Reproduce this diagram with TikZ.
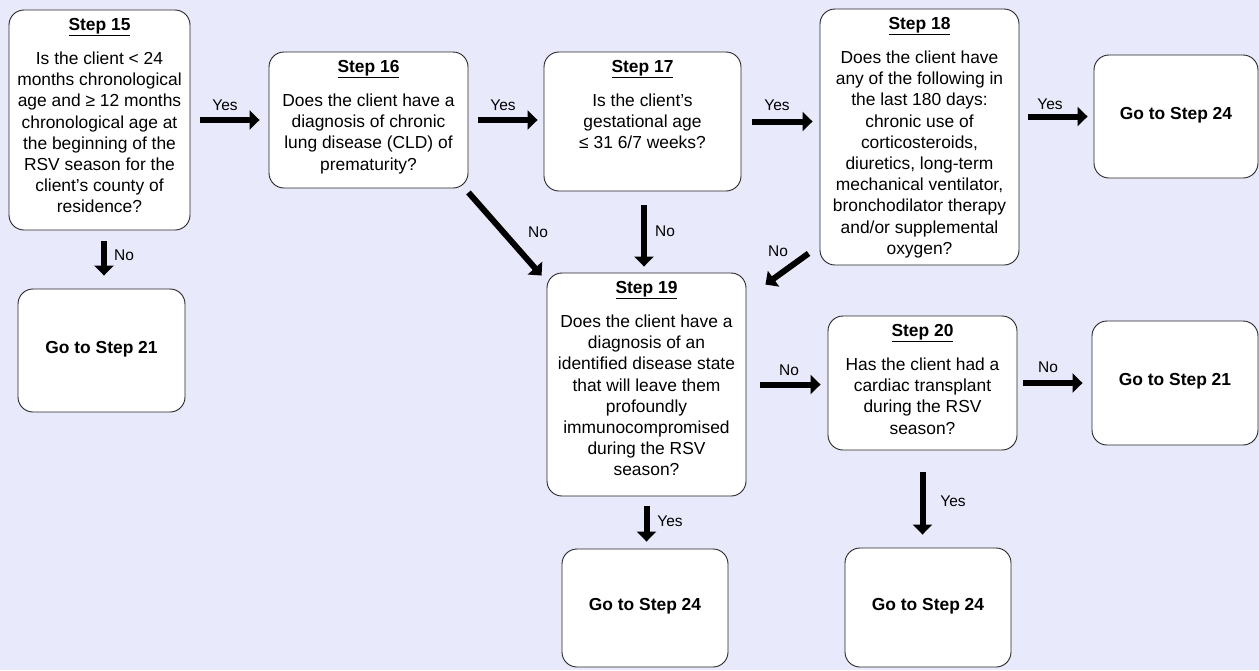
\documentclass[tikz,border=0pt]{standalone}
\usepackage{fontspec}
\setmainfont{Liberation Sans}
\usetikzlibrary{arrows.meta}
\definecolor{bg}{RGB}{233,233,252}
\newcommand\stephead[1]{\underline{\textbf{#1}}}
\begin{document}
\begin{tikzpicture}[x=1pt,y=-1pt,
  box/.style={draw=black!85, line width=0.9pt, rounded corners=15pt, fill=white, inner sep=0pt},
  stxt/.style={anchor=north, align=center, inner sep=0pt, font=\fontsize{17.4}{21.2}\selectfont},
  gotxt/.style={font=\fontsize{17.4}{21}\selectfont\bfseries, text height=12.5pt, text depth=7pt},
  lbl/.style={font=\fontsize{15.5}{18}\selectfont, inner sep=0pt},
  barrow/.style={line width=6pt, -{Triangle[width=19pt,length=10pt]}}]
\fill[bg] (0,0) rectangle (1259,670);
\useasboundingbox (0,0) rectangle (1259,670);

% boxes
\node[box, minimum width=181pt, minimum height=220pt] (s15) at (99.5,120) {};
\node[box, minimum width=199pt, minimum height=136pt] (s16) at (368.5,120) {};
\node[box, minimum width=197pt, minimum height=139pt] (s17) at (642.5,121.5) {};
\node[box, minimum width=199pt, minimum height=256pt] (s18) at (919.5,137) {};
\node[box, gotxt, minimum width=164pt, minimum height=123pt] (g24a) at (1176,116.5) {Go to Step 24};
\node[box, gotxt, minimum width=167pt, minimum height=123pt] (g21a) at (101.5,350.5) {Go to Step 21};
\node[box, minimum width=199pt, minimum height=223pt] (s19) at (646.5,384.5) {};
\node[box, minimum width=189pt, minimum height=134pt] (s20) at (922.5,383) {};
\node[box, gotxt, minimum width=166pt, minimum height=124pt] (g21b) at (1175,383) {Go to Step 21};
\node[box, gotxt, minimum width=166pt, minimum height=118pt] (g24b) at (645,608) {Go to Step 24};
\node[box, gotxt, minimum width=166pt, minimum height=119pt] (g24c) at (928,607.5) {Go to Step 24};

% texts
\node[stxt] (s15t) at ([yshift=-6.5pt]s15.north) {\rule{0pt}{14pt}\stephead{Step 15}\\[13pt]
  Is the client < 24\\ months chronological\\ age and ≥ 12 months\\ chronological age at\\
  the beginning of the\\ RSV season for the\\ client’s county of\\ residence?};
\node[stxt] (s16t) at ([yshift=-6.5pt]s16.north) {\rule{0pt}{14pt}\stephead{Step 16}\\[13pt]
  Does the client have a\\ diagnosis of chronic\\ lung disease (CLD) of\\ prematurity?};
\node[stxt] (s17t) at ([yshift=-6.5pt]s17.north) {\rule{0pt}{14pt}\stephead{Step 17}\\[13pt]
  Is the client’s\\ gestational age\\ ≤ 31 6/7 weeks?};
\node[stxt] (s18t) at ([yshift=-6.5pt]s18.north) {\rule{0pt}{14pt}\stephead{Step 18}\\[13pt]
  Does the client have\\ any of the following in\\ the last 180 days:\\ chronic use of\\
  corticosteroids,\\ diuretics, long-term\\ mechanical ventilator,\\ bronchodilator therapy\\
  and/or supplemental\\ oxygen?};
\node[stxt] (s19t) at ([yshift=-6.5pt]s19.north) {\rule{0pt}{14pt}\stephead{Step 19}\\[13pt]
  Does the client have a\\ diagnosis of an\\ identified disease state\\ that will leave them\\
  profoundly\\ immunocompromised\\ during the RSV\\ season?};
\node[stxt] (s20t) at ([yshift=-6.5pt]s20.north) {\rule{0pt}{14pt}\stephead{Step 20}\\[13pt]
  Has the client had a\\ cardiac transplant\\ during the RSV\\ season?};

% arrows
\draw[barrow, shorten <=10pt, shorten >=9pt] (s15) -- (s16);
\draw[barrow, shorten <=10pt, shorten >=6pt] (s16.east) -- (s17.west |- s16.east);
\draw[barrow, shorten <=11pt, shorten >=7pt] (s17.east) -- (s18.west |- s17.east);
\draw[barrow, shorten <=9pt, shorten >=6pt] (s18.east |- g24a.west) -- (g24a.west);
\draw[barrow, shorten <=11pt, shorten >=13pt] ([xshift=4.5pt]s15.south) -- ([xshift=4.5pt]s15.south |- g21a.north);
\draw[barrow] ([yshift=-4pt]s16.south east) -- ([xshift=-5pt,yshift=-3pt]s19.north west);
\draw[barrow, shorten <=14pt, shorten >=6pt] ([xshift=1.5pt]s17.south) -- ([xshift=1.5pt]s17.south |- s19.north);
\draw[barrow] ([xshift=-11pt,yshift=12pt]s18.south west) -- ([xshift=19pt,yshift=-12pt]s19.north east);
\draw[barrow, shorten <=14pt, shorten >=7pt] (s19.east) -- (s20.west |- s19.east);
\draw[barrow, shorten <=6pt, shorten >=9pt] (s20.east) -- (g21b.west |- s20.east);
\draw[barrow, shorten <=10pt, shorten >=7pt] (s19.south) -- (s19.south |- g24b.north);
\draw[barrow, shorten <=22pt, shorten >=13pt] (s20.south) -- (s20.south |- g24c.north);

% labels
\node[lbl] (l1) at (225,105) {Yes};
\node[lbl] (l2) at (503,105) {Yes};
\node[lbl] (l3) at (777,105) {Yes};
\node[lbl] (l4) at (1050,104) {Yes};
\node[lbl] (l5) at (124,255) {No};
\node[lbl] (l6) at (538,232) {No};
\node[lbl] (l7) at (665,231) {No};
\node[lbl] (l8) at (778,251) {No};
\node[lbl] (l9) at (789,370) {No};
\node[lbl] (l10) at (1048,367) {No};
\node[lbl] (l11) at (670,521) {Yes};
\node[lbl] (l12) at (953,501) {Yes};
\end{tikzpicture}
\end{document}
